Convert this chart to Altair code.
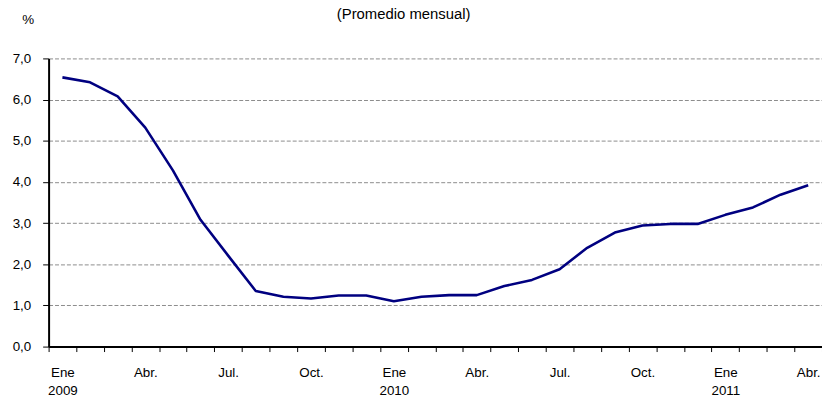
import json
import altair as alt
import pandas as pd

# ---- data ----
meses = [
    "Ene 2009", "Feb 2009", "Mar 2009", "Abr 2009", "May 2009", "Jun 2009",
    "Jul 2009", "Ago 2009", "Sep 2009", "Oct 2009", "Nov 2009", "Dic 2009",
    "Ene 2010", "Feb 2010", "Mar 2010", "Abr 2010", "May 2010", "Jun 2010",
    "Jul 2010", "Ago 2010", "Sep 2010", "Oct 2010", "Nov 2010", "Dic 2010",
    "Ene 2011", "Feb 2011", "Mar 2011", "Abr 2011",
]
tasa = [
    6.54, 6.42, 6.08, 5.32, 4.28, 3.08, 2.21, 1.35, 1.21, 1.17, 1.24, 1.24,
    1.10, 1.21, 1.25, 1.25, 1.47, 1.62, 1.88, 2.40, 2.77, 2.94, 2.98, 2.98,
    3.20, 3.38, 3.69, 3.92,
]
etiquetas_x = [
    "Ene|2009", "", "", "Abr.", "", "", "Jul.", "", "", "Oct.", "", "",
    "Ene|2010", "", "", "Abr.", "", "", "Jul.", "", "", "Oct.", "", "",
    "Ene|2011", "", "", "Abr.",
]
ticks_y = [0, 1, 2, 3, 4, 5, 6, 7]
titulo = "(Promedio mensual)"
unidad = "%"

n = len(meses)
df = pd.DataFrame({"mes": meses, "pos": [i + 0.5 for i in range(n)], "tasa": tasa})
df_titulo = pd.DataFrame({"texto": [titulo]})

W, H = 781, 291
band = W / n

label_expr_x = "split(" + json.dumps(etiquetas_x + [""]) + "[datum.value], '|')"
label_expr_y = "replace(format(datum.value, '.1f'), '.', ',')"

linea = (
    alt.Chart(df)
    .mark_line(color="#000080", strokeWidth=2.6, strokeJoin="round")
    .encode(
        x=alt.X(
            "pos:Q",
            scale=alt.Scale(domain=[0, n], nice=False, zero=False),
            axis=alt.Axis(
                values=list(range(n + 1)),
                labelExpr=label_expr_x,
                labelOffset=band / 2,
                labelOverlap=False,
                labelBound=False,
                labelFlush=False,
                labelPadding=14,
                labelLineHeight=18,
                labelFontSize=13.5,
                labelColor="black",
                tickSize=5,
                tickColor="black",
                tickWidth=1,
                domainColor="black",
                domainWidth=2,
                grid=False,
                title=None,
            ),
        ),
        y=alt.Y(
            "tasa:Q",
            scale=alt.Scale(domain=[0, 7], nice=False),
            axis=alt.Axis(
                values=ticks_y,
                labelExpr=label_expr_y,
                labelFontSize=13.5,
                labelColor="black",
                labelPadding=12,
                tickSize=6,
                tickColor="black",
                tickWidth=1,
                domainColor="black",
                domainWidth=2,
                grid=True,
                gridColor="#8c8c8c",
                gridDash=[4, 2],
                gridWidth=1,
                title=unidad,
                titleAngle=0,
                titleX=-21,
                titleY=-39,
                titleAlign="center",
                titleBaseline="middle",
                titleFontSize=13.5,
                titleFontWeight="normal",
                titleColor="black",
            ),
        ),
    )
)

encabezado = (
    alt.Chart(df_titulo)
    .mark_text(fontSize=15, color="black", align="center", baseline="alphabetic")
    .encode(
        text="texto:N",
        x=alt.value(W / 2 - 32),
        y=alt.value(-40),
    )
)

chart = (
    alt.layer(linea, encabezado)
    .properties(
        width=W,
        height=H,
        autosize=alt.AutoSizeParams(type="none"),
        padding={"left": 41, "top": 49, "right": 0, "bottom": 50},
    )
    .configure(font="Liberation Sans")
    .configure_view(stroke=None)
)

chart.save("out.html", embed_options={"renderer": "svg", "actions": False})
